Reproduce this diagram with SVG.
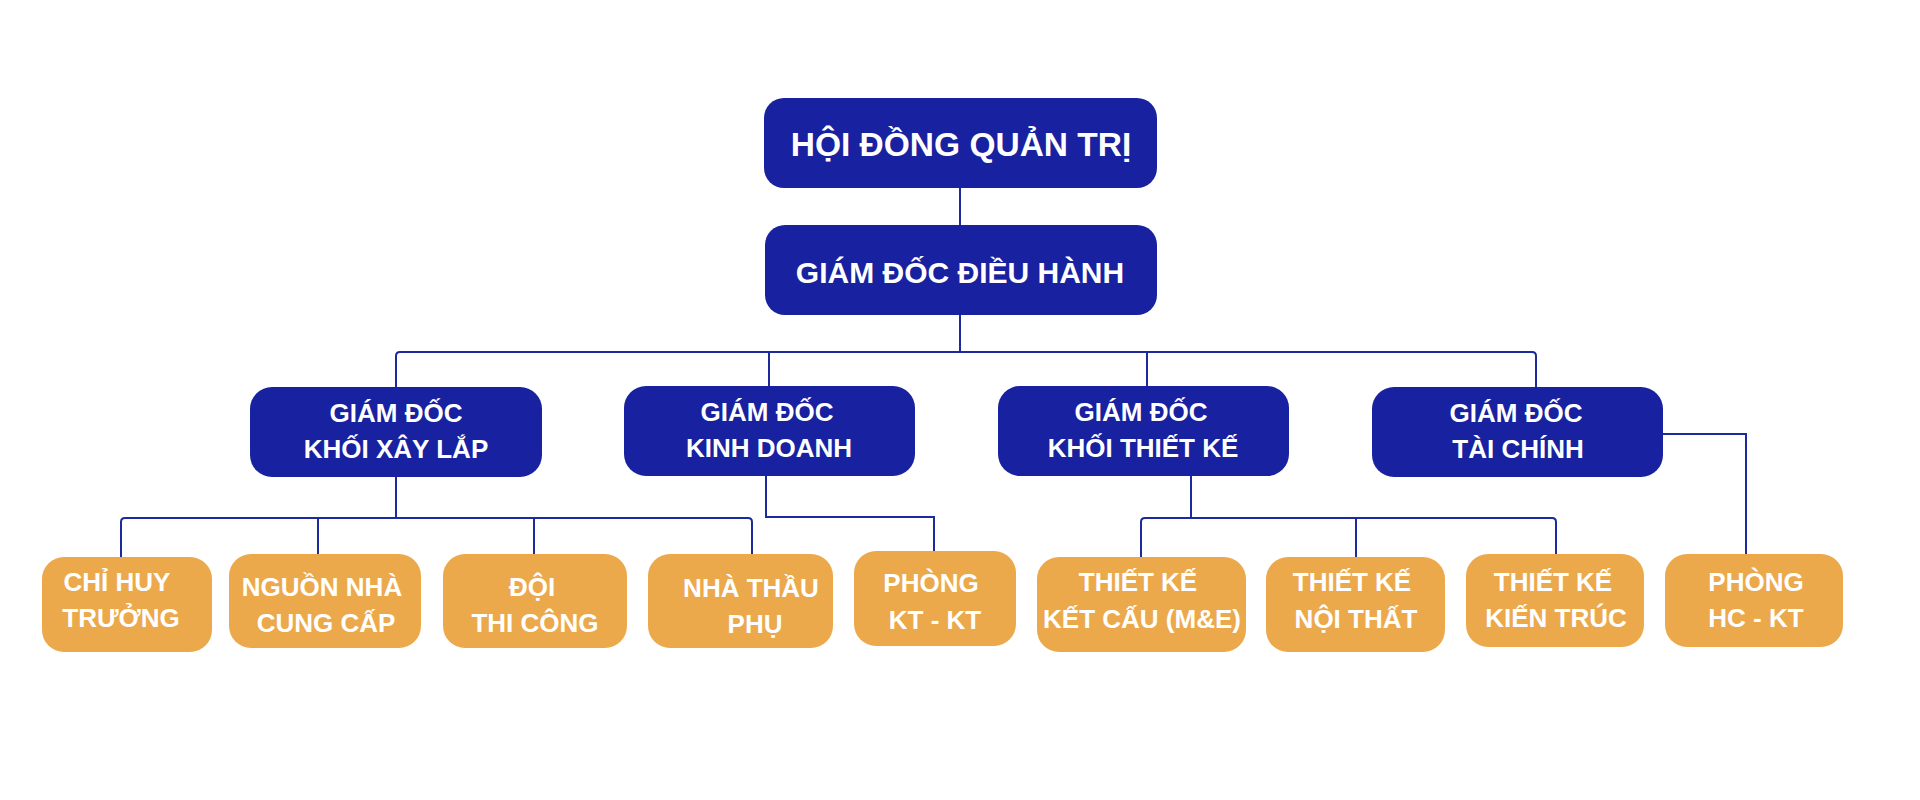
<svg xmlns="http://www.w3.org/2000/svg" width="1920" height="800" viewBox="0 0 1920 800">
<style>
.blue{fill:#18219f}
.orange{fill:#eca94b}
text{font-family:"Liberation Sans",Arial,sans-serif;font-weight:bold;fill:#ffffff;text-anchor:middle}
.t1{font-size:33.5px}
.t2{font-size:30px}
.t3{font-size:26px}
.c{fill:none;stroke:#1b2a9c;stroke-width:2}
</style>
<rect width="1920" height="800" fill="#ffffff"/>
<g id="connectors">
<path class="c" d="M960 188V225"/>
<path class="c" d="M960 315V352"/>
<path class="c" d="M396 387V356Q396 352 400 352H1532Q1536 352 1536 356V387"/>
<path class="c" d="M769 352V386"/>
<path class="c" d="M1147 352V386"/>
<path class="c" d="M396 477V518"/>
<path class="c" d="M121 557V522Q121 518 125 518H748Q752 518 752 522V554"/>
<path class="c" d="M318 518V554"/>
<path class="c" d="M534 518V554"/>
<path class="c" d="M766 476V517H934V551"/>
<path class="c" d="M1191 476V518"/>
<path class="c" d="M1141 557V522Q1141 518 1145 518H1552Q1556 518 1556 522V554"/>
<path class="c" d="M1356 518V557"/>
<path class="c" d="M1663 434H1746V554"/>
</g>
<g id="hdqt">
<rect class="blue" x="764" y="98" width="393" height="90" rx="20"/>
<text class="t1" x="961" y="156">HỘI ĐỒNG QUẢN TRỊ</text>
</g>
<g id="gddh">
<rect class="blue" x="765" y="225" width="392" height="90" rx="20"/>
<text class="t2" x="960" y="283">GIÁM ĐỐC ĐIỀU HÀNH</text>
</g>
<g id="gd-xaylap">
<rect class="blue" x="250" y="387" width="292" height="90" rx="22"/>
<text class="t3" x="396" y="422">GIÁM ĐỐC</text>
<text class="t3" x="396" y="458">KHỐI XÂY LẮP</text>
</g>
<g id="gd-kinhdoanh">
<rect class="blue" x="624" y="386" width="291" height="90" rx="22"/>
<text class="t3" x="767" y="421">GIÁM ĐỐC</text>
<text class="t3" x="769" y="457">KINH DOANH</text>
</g>
<g id="gd-thietke">
<rect class="blue" x="998" y="386" width="291" height="90" rx="22"/>
<text class="t3" x="1141" y="421">GIÁM ĐỐC</text>
<text class="t3" x="1143" y="457">KHỐI THIẾT KẾ</text>
</g>
<g id="gd-taichinh">
<rect class="blue" x="1372" y="387" width="291" height="90" rx="22"/>
<text class="t3" x="1516" y="422">GIÁM ĐỐC</text>
<text class="t3" x="1518" y="458">TÀI CHÍNH</text>
</g>
<g id="chi-huy-truong">
<rect class="orange" x="42" y="557" width="170" height="95" rx="22"/>
<text class="t3" x="117" y="591">CHỈ HUY</text>
<text class="t3" x="121" y="627">TRƯỞNG</text>
</g>
<g id="nguon-nha-cung-cap">
<rect class="orange" x="229" y="554" width="192" height="94" rx="22"/>
<text class="t3" x="322" y="596">NGUỒN NHÀ</text>
<text class="t3" x="326" y="632">CUNG CẤP</text>
</g>
<g id="doi-thi-cong">
<rect class="orange" x="443" y="554" width="184" height="94" rx="22"/>
<text class="t3" x="532" y="596">ĐỘI</text>
<text class="t3" x="535" y="632">THI CÔNG</text>
</g>
<g id="nha-thau-phu">
<rect class="orange" x="648" y="554" width="185" height="94" rx="22"/>
<text class="t3" x="751" y="597">NHÀ THẦU</text>
<text class="t3" x="755" y="633">PHỤ</text>
</g>
<g id="phong-kt-kt">
<rect class="orange" x="854" y="551" width="162" height="95" rx="22"/>
<text class="t3" x="931" y="592">PHÒNG</text>
<text class="t3" x="935" y="629">KT - KT</text>
</g>
<g id="tk-ket-cau">
<rect class="orange" x="1037" y="557" width="209" height="95" rx="22"/>
<text class="t3" x="1138" y="591">THIẾT KẾ</text>
<text class="t3" x="1142" y="628">KẾT CẤU (M&amp;E)</text>
</g>
<g id="tk-noi-that">
<rect class="orange" x="1266" y="557" width="179" height="95" rx="22"/>
<text class="t3" x="1352" y="591">THIẾT KẾ</text>
<text class="t3" x="1356" y="628">NỘI THẤT</text>
</g>
<g id="tk-kien-truc">
<rect class="orange" x="1466" y="554" width="178" height="93" rx="22"/>
<text class="t3" x="1553" y="591">THIẾT KẾ</text>
<text class="t3" x="1556" y="627">KIẾN TRÚC</text>
</g>
<g id="phong-hc-kt">
<rect class="orange" x="1665" y="554" width="178" height="93" rx="22"/>
<text class="t3" x="1756" y="591">PHÒNG</text>
<text class="t3" x="1756" y="627">HC - KT</text>
</g>
</svg>
